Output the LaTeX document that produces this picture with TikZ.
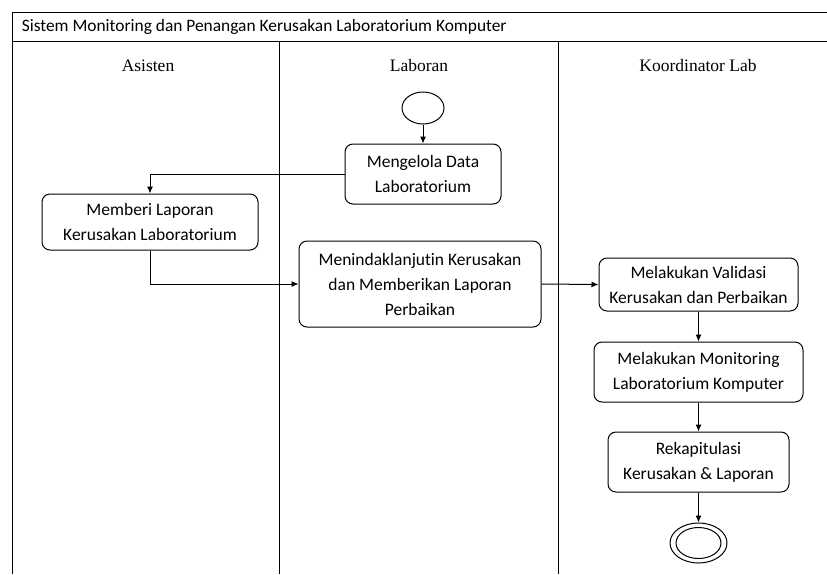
\documentclass[tikz,border=0pt]{standalone}
\usepackage{fontspec}
\setmainfont{Carlito}[Ligatures=NoCommon]
\newfontfamily\headfont{Liberation Serif}
\usetikzlibrary{arrows.meta, shapes.geometric}

\begin{document}
\begin{tikzpicture}[x=1pt, y=-1pt, line width=1pt,
  act/.style={rectangle, draw=black, rounded corners=8pt, align=center,
    inner sep=0, font=\fontsize{17.5}{25}\selectfont},
  lane/.style={font=\headfont\fontsize{17.5}{20}\selectfont},
  flow/.style={-{Latex[length=7pt,width=6pt]}}]
  \useasboundingbox (0,0) rectangle (827,574);

  % swimlanes
  \draw (12,574) -- (12,12) -- (832,12);
  \draw (12,41) -- (832,41);
  \draw (279,41) -- (279,574);
  \draw (558,41) -- (558,574);
  \node[anchor=west, font=\fontsize{17.4}{20}\selectfont] (title) at (18,27)
    {Sistem Monitoring dan Penangan Kerusakan Laboratorium Komputer};
  \node[lane] (asisten) at (148,66) {Asisten};
  \node[lane] (laboran) at (419,66) {Laboran};
  \node[lane] (koordinator) at (698,66) {Koordinator Lab};

  \node[ellipse, draw=black, minimum width=42pt, minimum height=32pt, inner sep=0] (start) at (423,108) {};
  \node[act, minimum width=156pt, minimum height=60pt] (mengelola) at (423,174) {Mengelola Data\\Laboratorium};
  \node[act, minimum width=216pt, minimum height=56pt] (memberi) at (150,222) {Memberi Laporan\\Kerusakan Laboratorium};
  \node[act, minimum width=242pt, minimum height=86pt] (tindak) at (420,284) {Menindaklanjutin Kerusakan\\dan Memberikan Laporan\\Perbaikan};
  \node[act, minimum width=199pt, minimum height=53pt] (validasi) at (698.5,284.5) {Melakukan Validasi\\Kerusakan dan Perbaikan};
  \node[act, minimum width=209pt, minimum height=60pt] (monitoring) at (698.5,372) {Melakukan Monitoring\\Laboratorium Komputer};
  \node[act, minimum width=181pt, minimum height=60pt] (rekap) at (698.5,462) {Rekapitulasi\\Kerusakan \& Laporan};
  \node[ellipse, draw=black, minimum width=57pt, minimum height=40pt, inner sep=0] (end) at (698.5,543) {};
  \node[ellipse, draw=black, minimum width=45pt, minimum height=31pt, inner sep=0] (endin) at (end.center) {};

  \draw[flow] (start) -- (mengelola);
  \draw[flow] (mengelola.west) -| (memberi.north);
  \draw[flow] (memberi.south) |- (tindak.west);
  \draw[flow] (tindak.east) -- (validasi.west);
  \draw[flow] (validasi) -- (monitoring);
  \draw[flow] (monitoring) -- (rekap);
  \draw[flow] (rekap) -- (end);
\end{tikzpicture}
\end{document}
